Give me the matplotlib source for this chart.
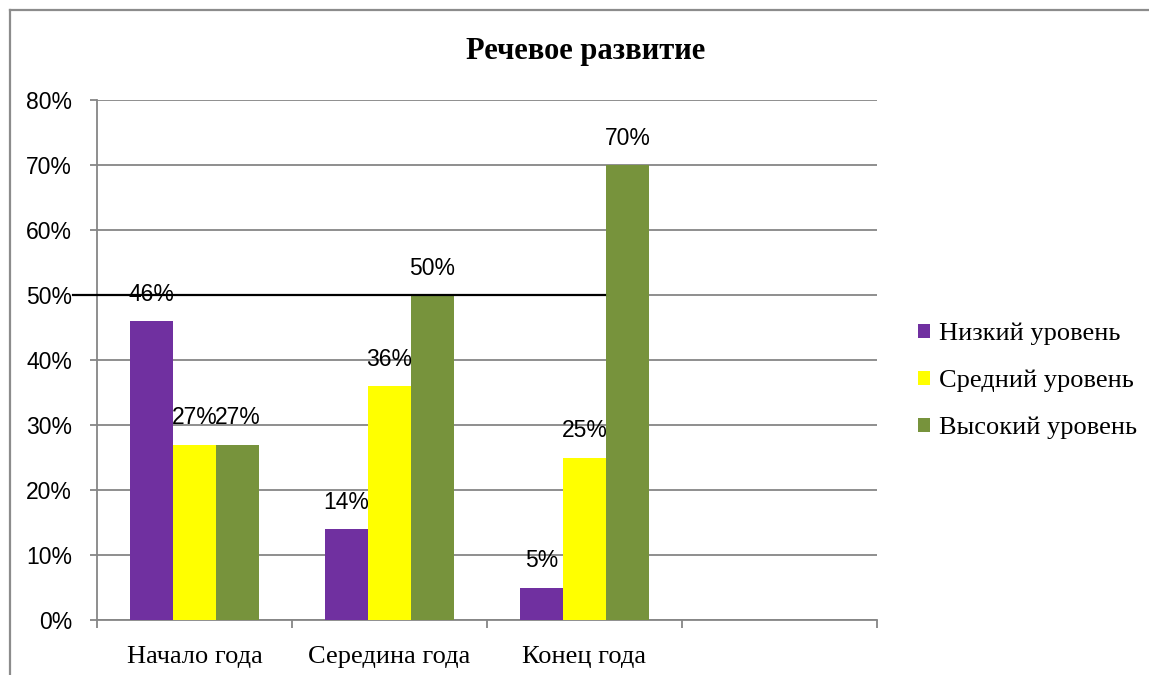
import matplotlib.pyplot as plt
from matplotlib.lines import Line2D
import numpy as np

# data
categories = ["Начало года", "Середина года", "Конец года"]
series_names = ["Низкий уровень", "Средний уровень", "Высокий уровень"]
low = [46, 14, 5]
mid = [27, 36, 25]
high = [27, 50, 70]
colors = ["#7030A0", "#FFFF00", "#77933C"]

SANS = ["Liberation Sans", "DejaVu Sans"]
SERIF = ["Liberation Serif", "DejaVu Serif"]
GRID = "#868686"

fig = plt.figure(figsize=(11.49, 6.75), dpi=100)
fig.patch.set_facecolor("white")
W, H = 1149, 675
ax = fig.add_axes([97 / W, 1 - 620 / H, 780 / W, 520 / H])

x = np.arange(len(categories))
bw = 0.22
bars = []
for i, (vals, name, c) in enumerate(zip([low, mid, high], series_names, colors)):
    b = ax.bar(x + (i - 1) * bw, vals, bw, color=c, label=name, zorder=3)
    bars.append(b)
    for rect, v in zip(b, vals):
        ax.annotate(f"{v}%", (rect.get_x() + rect.get_width() / 2, v),
                    xytext=(0, 11), textcoords="offset points", ha="center", va="bottom",
                    fontsize=16.5, family=SANS, zorder=5)

ax.set_xlim(-0.5, 3.5)
ax.set_ylim(0, 80)
ax.set_yticks(range(0, 81, 10))
ax.set_yticklabels([f"{v}%" for v in range(0, 81, 10)], family=SANS, fontsize=16.5)
ax.yaxis.grid(True, color=GRID, linewidth=1.3, zorder=0)
ax.tick_params(axis="y", length=5, width=1.3, color=GRID, pad=13)

ax.set_xticks([k - 0.5 for k in range(5)], minor=False)
ax.set_xticklabels([])
ax.tick_params(axis="x", which="major", length=6, width=1.3, color=GRID, direction="out")
ax.set_xticks(x, minor=True)
ax.set_xticklabels(categories, minor=True, family=SERIF, fontsize=19)
ax.tick_params(axis="x", which="minor", length=0, pad=19)

for s in ["top", "right"]:
    ax.spines[s].set_visible(False)
ax.spines["left"].set_color(GRID)
ax.spines["bottom"].set_color(GRID)
ax.spines["left"].set_linewidth(1.3)
ax.spines["bottom"].set_linewidth(1.3)

# black line at 50%
ax.plot([-0.623, 2.105], [50, 50], color="black", linewidth=1.6, clip_on=False, zorder=4)

fig.text(586 / W, 1 - 52 / H, "Речевое развитие", family=SERIF, fontsize=22,
         fontweight="bold", ha="center", va="center")

fig.legend(handles=[b for b in bars], labels=series_names, loc="center left",
           bbox_to_anchor=(894 / W, 1 - 381 / H), frameon=False,
           prop={"family": SERIF, "size": 19}, handlelength=0.45, handleheight=0.45,
           handletextpad=0.35, labelspacing=0.92)

# outer border
fig.add_artist(Line2D([10 / W, 10 / W], [0, 1 - 10 / H], color="#8c8c8c", linewidth=1.6))
fig.add_artist(Line2D([10 / W, 1], [1 - 10 / H, 1 - 10 / H], color="#8c8c8c", linewidth=1.6))

fig.savefig("out.png", dpi=100, facecolor="white")
